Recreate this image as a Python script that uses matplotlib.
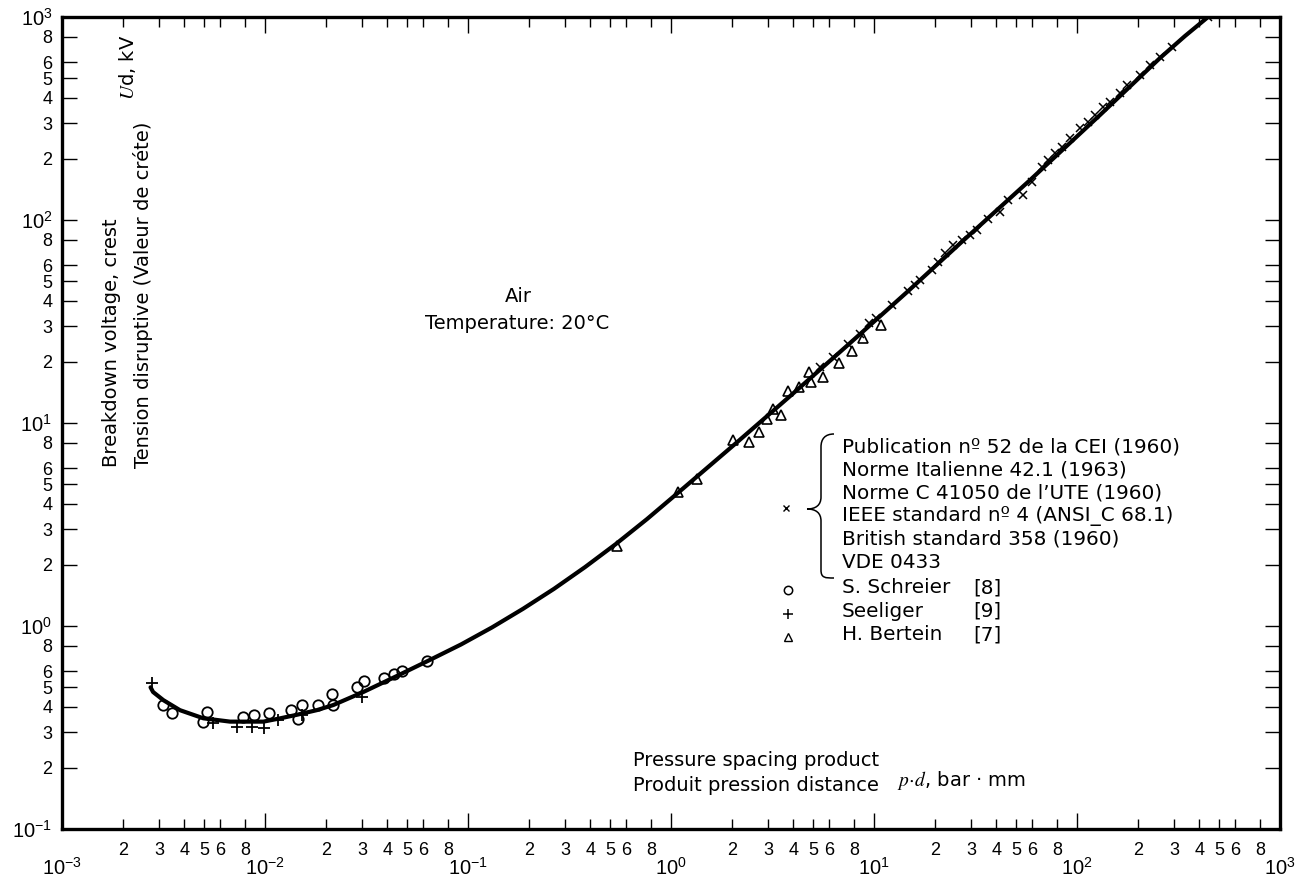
import math
import matplotlib
matplotlib.use("Agg")
import matplotlib.pyplot as plt
from matplotlib.ticker import LogLocator, FuncFormatter
from matplotlib.path import Path
from matplotlib.patches import PathPatch

plt.rcParams['font.family'] = ['DejaVu Sans']
plt.rcParams['mathtext.fontset'] = 'stix'

# Breakdown voltage of air at 20 °C versus pressure-spacing product
# pd in bar·mm, Ud in kV (crest)
curve_pd = [0.00273, 0.00281, 0.00316, 0.00381, 0.00497, 0.00673, 0.00982,
            0.0119, 0.0143, 0.0180, 0.0217, 0.0305, 0.0446, 0.0650, 0.0924,
            0.1313, 0.1866, 0.2652, 0.3771, 0.5358, 0.7615, 1.083, 2.067,
            3.946, 7.617, 14.71, 26.52, 58.6, 129.8, 256.4, 340.4, 442]
curve_ud = [0.499, 0.473, 0.431, 0.385, 0.351, 0.338, 0.338,
            0.351, 0.365, 0.385, 0.408, 0.473, 0.567, 0.681, 0.811,
            0.984, 1.215, 1.524, 1.950, 2.537, 3.362, 4.532, 7.88,
            13.83, 24.75, 44.6, 76.6, 157, 329, 628, 806, 1000]

# S. Schreier [8]
schreier_pd = [0.00316, 0.00349, 0.00520, 0.00497, 0.00776, 0.00885, 0.01043,
               0.01348, 0.01449, 0.01527, 0.01832, 0.02147, 0.02157, 0.0283,
               0.0308, 0.0387, 0.0432, 0.0473, 0.0627]
schreier_ud = [0.408, 0.374, 0.377, 0.338, 0.357, 0.363, 0.372,
               0.387, 0.347, 0.406, 0.406, 0.461, 0.408, 0.499,
               0.538, 0.552, 0.578, 0.602, 0.675]

# Seeliger [9]
seeliger_pd = [0.00277, 0.00552, 0.00726, 0.00860, 0.00993, 0.01156, 0.01527, 0.0302]
seeliger_ud = [0.522, 0.332, 0.317, 0.317, 0.315, 0.344, 0.364, 0.449]

# H. Bertein [7]
bertein_pd = [0.540, 1.086, 1.348, 2.015, 2.42, 2.70, 2.96, 3.17, 3.48, 3.76,
              4.29, 4.79, 4.88, 5.62, 6.70, 7.79, 8.86, 10.8]
bertein_ud = [2.48, 4.56, 5.30, 8.25, 8.09, 9.00, 10.5, 11.7, 10.9, 14.3,
              15.1, 17.9, 16.0, 16.9, 19.7, 22.7, 26.3, 30.3]

# Standards (CEI, Italian, UTE, IEEE, BS, VDE)
standards_pd = [5.42, 6.28, 7.45, 8.53, 9.45, 10.2, 12.3, 14.7, 15.9, 16.9,
                19.3, 20.7, 22.4, 24.5, 27.1, 29.7, 32.2, 36.5, 41.8, 45.7,
                54.2, 60.0, 67.3, 72.0, 78.0, 84.3, 92.4, 104, 113, 123,
                134, 146, 163, 176, 204, 229, 256, 294, 442]
standards_ud = [18.9, 21.1, 24.5, 27.4, 31.1, 32.9, 38.1, 44.7, 47.9, 50.6,
                56.7, 62.1, 68.8, 75.3, 79.7, 84.3, 89.3, 101, 109, 126,
                133, 154, 182, 198, 214, 229, 254, 284, 304, 329,
                360, 381, 422, 462, 518, 580, 635, 712, 1000]

standards_names = ["Publication nº 52 de la CEI (1960)",
                   "Norme Italienne 42.1 (1963)",
                   "Norme C 41050 de l’UTE (1960)",
                   "IEEE standard nº 4 (ANSI_C 68.1)",
                   "British standard 358 (1960)",
                   "VDE 0433"]
authors = ["S. Schreier", "Seeliger", "H. Bertein"]
author_refs = ["[8]", "[9]", "[7]"]

minor_subs = [2, 3, 4, 5, 6, 8]
x_limits = (1e-3, 1e3)
y_limits = (1e-1, 1e3)

W, H = 1305, 880
fig = plt.figure(figsize=(W / 100, H / 100), dpi=100)
ax = fig.add_axes([62 / W, 1 - 829 / H, 1218 / W, 812 / H])


def fp(x, y):
    """Pixel position (origin top-left) to figure fraction."""
    return x / W, 1 - y / H


ax.set_xscale('log')
ax.set_yscale('log')
ax.set_xlim(*x_limits)
ax.set_ylim(*y_limits)

ax.plot(curve_pd, curve_ud, color='black', lw=3.0, solid_joinstyle='round',
        solid_capstyle='round', zorder=3)
ax.plot(schreier_pd, schreier_ud, 'o', ms=7.5, mfc='none', mec='black',
        mew=1.3, zorder=4)
ax.plot(seeliger_pd, seeliger_ud, '+', ms=8, mec='black', mew=1.3, zorder=4)
ax.plot(bertein_pd, bertein_ud, '^', ms=7, mfc='none', mec='black',
        mew=1.2, zorder=4)
ax.plot(standards_pd, standards_ud, 'x', ms=6, mec='black', mew=1.1, zorder=4)


def minor_label(v, pos):
    e = math.floor(math.log10(v) + 1e-9)
    return "%d" % round(v / 10 ** e)


def major_label(v, pos):
    return r"$\mathdefault{10^{%d}}$" % round(math.log10(v))


for axis in (ax.xaxis, ax.yaxis):
    axis.set_major_locator(LogLocator(base=10, numticks=20))
    axis.set_minor_locator(LogLocator(base=10, subs=minor_subs, numticks=20))
    axis.set_major_formatter(FuncFormatter(major_label))
    axis.set_minor_formatter(FuncFormatter(minor_label))

ax.tick_params(which='both', direction='in', top=True, right=True,
               width=1.0, labelsize=13)
ax.tick_params(which='major', labelsize=14.5)
ax.tick_params(axis='x', which='major', length=11.5, pad=20)
ax.tick_params(axis='x', which='minor', length=7.2, pad=9)
ax.tick_params(axis='y', which='both', length=10.5, pad=7)
for lab in ax.get_xticklabels(which='both') + ax.get_yticklabels(which='both'):
    lab.set_fontfamily('Liberation Sans')

for s in ax.spines.values():
    s.set_linewidth(2.4)

# axis titles
fig.text(*fp(112, 467), "Breakdown voltage, crest", rotation=90,
         ha='center', va='bottom', fontsize=14)
fig.text(*fp(143, 468), "Tension disruptive (Valeur de créte)", rotation=90,
         ha='center', va='bottom', fontsize=14)
fig.text(*fp(128, 100), r"$\mathit{U}$d, kV", rotation=90,
         ha='center', va='bottom', fontsize=14)

fig.text(*fp(633, 766), "Pressure spacing product", ha='left',
         va='baseline', fontsize=14)
fig.text(*fp(633, 791), "Produit pression distance", ha='left',
         va='baseline', fontsize=14)
fig.text(*fp(897, 786), r"$p\!\cdot\!d$, bar · mm", ha='left',
         va='baseline', fontsize=14)

fig.text(*fp(518, 302), "Air", ha='center', va='baseline', fontsize=14)
fig.text(*fp(517, 329), "Temperature: 20°C", ha='center', va='baseline',
         fontsize=14)

# key: standards grouped by a brace
for i, name in enumerate(standards_names):
    fig.text(*fp(842, 452 + i * 23.1), name, ha='left', va='baseline',
             fontsize=14.4)
brace_px = [(834, 434), (825, 434), (821, 439), (821, 447), (821, 497),
            (821, 505), (816, 509), (807, 509), (816, 509), (821, 513),
            (821, 521), (821, 570), (821, 578), (825, 578), (834, 578)]
brace_codes = [Path.MOVETO, Path.CURVE4, Path.CURVE4, Path.CURVE4, Path.LINETO,
               Path.CURVE4, Path.CURVE4, Path.CURVE4, Path.CURVE4, Path.CURVE4,
               Path.CURVE4, Path.LINETO, Path.CURVE4, Path.CURVE4, Path.CURVE4]
brace = PathPatch(Path([fp(x, y) for x, y in brace_px], brace_codes),
                  transform=fig.transFigure, fill=False, lw=1.1,
                  edgecolor='black')
fig.add_artist(brace)

key_markers = [dict(marker='o', ms=6, mfc='none', mew=1.1),
               dict(marker='+', ms=7, mew=1.1),
               dict(marker='^', ms=5.5, mfc='none', mew=1.0)]
ax.plot(*fp(786, 508), transform=fig.transFigure, marker='x', ms=5,
        mec='black', mew=1.0, clip_on=False)
for i, (name, ref, mk) in enumerate(zip(authors, author_refs, key_markers)):
    yb = 593 + i * 23.7
    ax.plot(*fp(788, yb - 3), transform=fig.transFigure, color='black',
            mec='black', clip_on=False, **mk)
    fig.text(*fp(842, yb), name, ha='left', va='baseline', fontsize=14.4)
    fig.text(*fp(973, yb), ref, ha='left', va='baseline', fontsize=14.4)

fig.savefig("out.png", dpi=100)
